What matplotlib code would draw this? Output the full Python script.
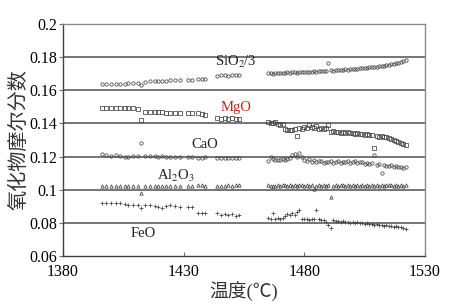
import matplotlib
matplotlib.use("Agg")
import matplotlib.pyplot as plt

plt.rcParams["mathtext.fontset"] = "stix"

# temperatures of the two measuring runs
t1 = [1396, 1398, 1400, 1402, 1403.5, 1405.5, 1407, 1409, 1411, 1412.5, 1414, 1416, 1418, 1419.5,
      1421, 1422.5, 1424.5, 1426.5, 1428.5, 1432, 1433.5, 1436, 1437.5, 1439, 1444, 1445.5, 1447,
      1448.5, 1450, 1451.5, 1453]
t2 = [1465, 1466, 1467, 1468, 1469, 1470, 1471, 1472, 1473, 1474, 1475, 1476, 1477, 1478, 1479,
      1480, 1481, 1482, 1483, 1484, 1485, 1486, 1487, 1488, 1489, 1490, 1491, 1492, 1493, 1494,
      1495, 1496, 1497, 1498, 1499, 1500, 1501, 1502, 1503, 1504, 1505, 1506, 1507, 1508, 1509,
      1510, 1511, 1512, 1513, 1514, 1515, 1516, 1517, 1518, 1519, 1520, 1521, 1522]

sio2_1 = [0.1635, 0.1637, 0.1637, 0.1639, 0.1640, 0.1640, 0.1642, 0.1641, 0.1643, 0.1632, 0.1650,
          0.1654, 0.1655, 0.1657, 0.1656, 0.1658, 0.1660, 0.1661, 0.1662, 0.1665, 0.1664, 0.1666,
          0.1668, 0.1667, 0.1688, 0.1691, 0.1690, 0.1689, 0.1691, 0.1690, 0.1690]
sio2_2 = [0.1702, 0.1705, 0.1700, 0.1706, 0.1703, 0.1707, 0.1704, 0.1706, 0.1708, 0.1705, 0.1709,
          0.1710, 0.1707, 0.1711, 0.1709, 0.1712, 0.1710, 0.1713, 0.1711, 0.1715, 0.1712, 0.1716,
          0.1714, 0.1718, 0.1716, 0.1766, 0.1720, 0.1718, 0.1722, 0.1720, 0.1724, 0.1722, 0.1726,
          0.1725, 0.1728, 0.1727, 0.1731, 0.1730, 0.1734, 0.1733, 0.1737, 0.1736, 0.1740, 0.1739,
          0.1743, 0.1742, 0.1746, 0.1745, 0.1749, 0.1750, 0.1753, 0.1756, 0.1758, 0.1762, 0.1766,
          0.1772, 0.1778, 0.1785]

mgo_1 = [0.1493, 0.1492, 0.1493, 0.1492, 0.1493, 0.1496, 0.1492, 0.1493, 0.1490, 0.1420, 0.1470,
         0.1467, 0.1470, 0.1468, 0.1470, 0.1463, 0.1460, 0.1465, 0.1460, 0.1460, 0.1462, 0.1464,
         0.1458, 0.1448, 0.1430, 0.1428, 0.1432, 0.1426, 0.1430, 0.1427, 0.1425]
mgo_2 = [0.1410, 0.1405, 0.1402, 0.1408, 0.1398, 0.1392, 0.1396, 0.1365, 0.1360, 0.1362, 0.1358,
         0.1366, 0.1322, 0.1375, 0.1368, 0.1380, 0.1372, 0.1390, 0.1376, 0.1370, 0.1382, 0.1368,
         0.1374, 0.1366, 0.1372, 0.1392, 0.1350, 0.1352, 0.1347, 0.1350, 0.1345, 0.1348, 0.1342,
         0.1346, 0.1340, 0.1344, 0.1338, 0.1342, 0.1336, 0.1338, 0.1332, 0.1335, 0.1328, 0.1331,
         0.1250, 0.1326, 0.1320, 0.1324, 0.1317, 0.1320, 0.1312, 0.1306, 0.1300, 0.1294, 0.1288,
         0.1282, 0.1276, 0.1270]

cao_1 = [0.1215, 0.1210, 0.1205, 0.1208, 0.1206, 0.1198, 0.1196, 0.1202, 0.1205, 0.1284, 0.1206,
         0.1203, 0.1202, 0.1200, 0.1201, 0.1200, 0.1198, 0.1200, 0.1197, 0.1196, 0.1198, 0.1193,
         0.1192, 0.1195, 0.1190, 0.1192, 0.1194, 0.1192, 0.1191, 0.1193, 0.1192]
cao_2 = [0.1175, 0.1195, 0.1185, 0.1178, 0.1182, 0.1180, 0.1185, 0.1180, 0.1185, 0.1190, 0.1210,
         0.1218, 0.1200, 0.1222, 0.1195, 0.1180, 0.1172, 0.1185, 0.1168, 0.1178, 0.1165, 0.1172,
         0.1175, 0.1162, 0.1170, 0.1165, 0.1172, 0.1160, 0.1168, 0.1174, 0.1162, 0.1170, 0.1165,
         0.1172, 0.1160, 0.1168, 0.1175, 0.1162, 0.1168, 0.1165, 0.1158, 0.1162, 0.1155, 0.1160,
         0.1210, 0.1150, 0.1155, 0.1103, 0.1150, 0.1145, 0.1142, 0.1148, 0.1138, 0.1144, 0.1135,
         0.1140, 0.1132, 0.1136]

al2o3_1 = [0.1024, 0.1025, 0.1024, 0.1025, 0.1024, 0.1025, 0.1024, 0.1023, 0.1025, 0.0978, 0.1024,
           0.1022, 0.1025, 0.1024, 0.1025, 0.1024, 0.1025, 0.1023, 0.1024, 0.1024, 0.1023, 0.1028,
           0.1029, 0.1025, 0.1023, 0.1025, 0.1024, 0.1026, 0.1025, 0.1026, 0.1027]
al2o3_2 = [0.1028, 0.1022, 0.1025, 0.1024, 0.1029, 0.1023, 0.1026, 0.1030, 0.1022, 0.1027, 0.1024,
           0.1028, 0.1021, 0.1026, 0.1029, 0.1023, 0.1027, 0.1022, 0.1026, 0.1002, 0.1025, 0.1028,
           0.1022, 0.1027, 0.1024, 0.1029, 0.0958, 0.1023, 0.1027, 0.1021, 0.1026, 0.1029, 0.1024,
           0.1027, 0.1022, 0.1028, 0.1025, 0.1030, 0.1023, 0.1027, 0.1024, 0.1029, 0.1022, 0.1028,
           0.1025, 0.1030, 0.1024, 0.1028, 0.1023, 0.1029, 0.1026, 0.1030, 0.1024, 0.1028, 0.1025,
           0.1029, 0.1023, 0.1027]

feo_1 = [0.0922, 0.0922, 0.0921, 0.0922, 0.0918, 0.0912, 0.0909, 0.0905, 0.0908, 0.0890, 0.0910,
         0.0908, 0.0902, 0.0896, 0.0890, 0.0904, 0.0906, 0.0901, 0.0895, 0.0895, 0.0897, 0.0858,
         0.0858, 0.0858, 0.0857, 0.0848, 0.0852, 0.0846, 0.0852, 0.0840, 0.0850]
feo_2 = [0.0828, 0.0824, 0.0858, 0.0826, 0.0830, 0.0826, 0.0832, 0.0840, 0.0852, 0.0845, 0.0862,
         0.0850, 0.0866, 0.0878, 0.0824, 0.0822, 0.0825, 0.0820, 0.0823, 0.0821, 0.0878, 0.0822,
         0.0818, 0.0820, 0.0805, 0.0788, 0.0768, 0.0815, 0.0810, 0.0812, 0.0806, 0.0809, 0.0804,
         0.0807, 0.0802, 0.0805, 0.0800, 0.0803, 0.0798, 0.0800, 0.0795, 0.0798, 0.0792, 0.0796,
         0.0790, 0.0793, 0.0786, 0.0790, 0.0783, 0.0786, 0.0780, 0.0783, 0.0776, 0.0779, 0.0772,
         0.0775, 0.0768, 0.0762]

yticks = [0.06, 0.08, 0.1, 0.12, 0.14, 0.16, 0.18, 0.2]
ytick_labels = ["0.06", "0.08", "0.1", "0.12", "0.14", "0.16", "0.18", "0.2"]
xticks = [1380, 1430, 1480, 1530]

serif = ["Liberation Serif", "Noto Sans CJK SC"]
mk = "#444444"

fig = plt.figure(figsize=(4.49, 3.06), dpi=100)
ax = fig.add_axes([0.1403, 0.1634, 0.8062, 0.7582])

series = [
    (sio2_1, sio2_2, "o", 2.4),
    (mgo_1, mgo_2, "s", 2.4),
    (cao_1, cao_2, "o", 2.4),
    (al2o3_1, al2o3_2, "^", 2.4),
    (feo_1, feo_2, "+", 3.0),
]
for s1, s2, m, ms in series:
    for t, v in ((t1, s1), (t2, s2)):
        ax.plot(t, v, linestyle="none", marker=m, markersize=ms, markerfacecolor="none",
                markeredgecolor=mk, markeredgewidth=0.55, color=mk)

# horizontal grid lines
for yv in yticks[1:-1]:
    ax.axhline(yv, color="#6a6a6a", linewidth=1.3, zorder=0)

ax.set_xlim(1380, 1530)
ax.set_ylim(0.06, 0.2)
ax.set_xticks(xticks)
ax.set_xticklabels([str(x) for x in xticks], family=serif, fontsize=11.5)
ax.set_yticks(yticks)
ax.set_yticklabels(ytick_labels, family=serif, fontsize=11.5)
ax.tick_params(axis="y", direction="out", length=3, width=0.8, color="#707070", pad=1)
ax.tick_params(axis="x", direction="in", length=3, width=0.8, color="#707070", pad=6)
for sp in ax.spines.values():
    sp.set_color("#8a8a8a")
    sp.set_linewidth(1.0)
ax.spines["left"].set_color("#404040")
ax.spines["bottom"].set_color("#404040")

ax.set_ylabel("氧化物摩尔分数", family=["Noto Sans CJK SC"], fontsize=14.5, color="#333333",
              labelpad=0)
ax.set_xlabel("温度(℃)", family=serif, fontsize=13.5, color="#333333", labelpad=1)

ax.text(1451.7, 0.1771, "SiO$_2$/3", family=serif, fontsize=10.5, ha="center", va="center",
        color="#222222")
ax.text(1451.7, 0.1499, "MgO", family=serif, fontsize=10.5, ha="center", va="center",
        color="#c0281e")
ax.text(1438.8, 0.1270, "CaO", family=serif, fontsize=10.5, ha="center", va="center",
        color="#222222")
ax.text(1426.8, 0.1083, "Al$_2$O$_3$", family=serif, fontsize=10.5, ha="center", va="center",
        color="#222222")
ax.text(1413.2, 0.0733, "FeO", family=serif, fontsize=10.5, ha="center", va="center",
        color="#222222")

fig.savefig("out.png", dpi=100)
